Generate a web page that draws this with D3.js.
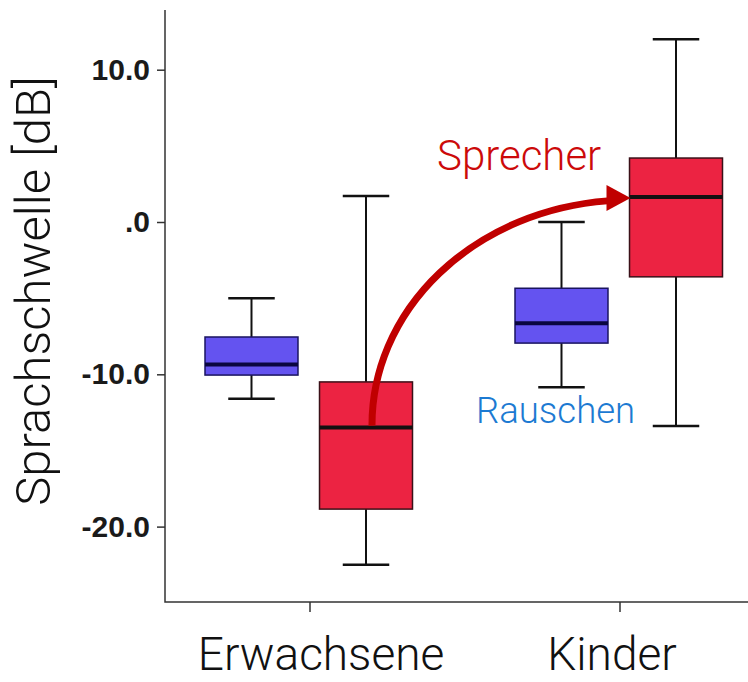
<!DOCTYPE html>
<html>
<head>
<meta charset="utf-8">
<script src="https://cdn.jsdelivr.net/npm/d3@7"></script>
<style>
  body { margin: 0; background: #fff; }
  svg { display: block; }
</style>
</head>
<body>
<svg id="chart"></svg>
<script>
const categories = ["Erwachsene", "Kinder"]
const series = ["Rauschen", "Sprecher"]
// box stats per category, order: Rauschen, Sprecher
const whiskerHigh = [[-5.0, 1.7], [0.0, 12.0]]
const q3 = [[-7.55, -10.5], [-4.35, 4.2]]
const median = [[-9.35, -13.5], [-6.65, 1.65]]
const q1 = [[-10.05, -18.85], [-7.95, -3.6]]
const whiskerLow = [[-11.6, -22.5], [-10.85, -13.4]]
const yTicks = [10, 0, -10, -20]
const yTickLabels = ["10.0", ".0", "-10.0", "-20.0"]

const width = 748, height = 682
const colors = {Rauschen: "#6453f0", Sprecher: "#ec2342"}

const svg = d3.select("#chart").attr("width", width).attr("height", height)

const plotLeft = 165, plotRight = 748, plotTop = 10, plotBottom = 602

const y = d3.scaleLinear().domain([-24.95, 13.92]).range([plotBottom, plotTop])
const x = d3.scaleBand().domain(categories).range([155, 775])
const sub = d3.scaleBand().domain(series).range([50, 257.5]).paddingInner(0.188)

const boxes = []
categories.forEach(function(c, i) {
    series.forEach(function(s, j) {
        boxes.push({cat: c, ser: s, hi: whiskerHigh[i][j], q3: q3[i][j], med: median[i][j], q1: q1[i][j], lo: whiskerLow[i][j]})
    })
})

const bw = sub.bandwidth()
const g = svg.selectAll("g.box")
    .data(boxes)
    .enter().append("g")
    .attr("class", "box")
    .attr("transform", function(d) { return `translate(${x(d.cat) + sub(d.ser)},0)` })

g.append("line")
    .attr("x1", bw / 2).attr("x2", bw / 2)
    .attr("y1", function(d) { return y(d.hi) })
    .attr("y2", function(d) { return y(d.q3) })
    .attr("stroke", "#111").attr("stroke-width", 2)
g.append("line")
    .attr("x1", bw / 2).attr("x2", bw / 2)
    .attr("y1", function(d) { return y(d.q1) })
    .attr("y2", function(d) { return y(d.lo) })
    .attr("stroke", "#111").attr("stroke-width", 2)
g.selectAll("line.cap")
    .data(function(d) { return [d.hi, d.lo] })
    .enter().append("line")
    .attr("class", "cap")
    .attr("x1", bw / 4).attr("x2", bw * 3 / 4)
    .attr("y1", function(v) { return y(v) })
    .attr("y2", function(v) { return y(v) })
    .attr("stroke", "#111").attr("stroke-width", 2.5)

g.append("rect")
    .attr("x", 0)
    .attr("width", bw)
    .attr("y", function(d) { return y(d.q3) })
    .attr("height", function(d) { return y(d.q1) - y(d.q3) })
    .attr("fill", function(d) { return colors[d.ser] })
    .attr("stroke", function(d) { return d.ser == "Rauschen" ? "#1a1460" : "#3a1018" })
    .attr("stroke-width", 1.5)

g.append("line")
    .attr("x1", 0).attr("x2", bw)
    .attr("y1", function(d) { return y(d.med) })
    .attr("y2", function(d) { return y(d.med) })
    .attr("stroke", function(d) { return d.ser == "Rauschen" ? "#0a0640" : "#111" })
    .attr("stroke-width", 4)

// axes
const yAxis = d3.axisLeft(y)
    .tickValues(yTicks)
    .tickFormat(function(d, i) { return yTickLabels[i] })
    .tickSize(8).tickPadding(7).tickSizeOuter(0)
const ya = svg.append("g").attr("transform", `translate(${plotLeft},0)`).call(yAxis)
ya.select(".domain").remove()
ya.selectAll(".tick line").attr("stroke", "#333").attr("stroke-width", 1.5)
ya.selectAll(".tick text")
    .attr("font-family", "Liberation Sans, Arial, sans-serif")
    .attr("font-size", 30).attr("font-weight", "bold").attr("fill", "#1a1a1a")

const xAxis = d3.axisBottom(x).tickSize(10).tickSizeOuter(0)
const xa = svg.append("g").attr("transform", `translate(0,${plotBottom})`).call(xAxis)
xa.select(".domain").remove()
xa.selectAll(".tick line").attr("stroke", "#333").attr("stroke-width", 1.5)
xa.selectAll(".tick text")
    .attr("font-family", "Roboto, sans-serif")
    .attr("font-weight", 300)
    .attr("font-size", 46).attr("fill", "#111")
    .attr("y", 68).attr("dy", 0)
    .attr("dx", function(d, i) { return i == 0 ? 11 : -8 })

svg.append("path")
    .attr("d", `M${plotLeft},${plotTop}V${plotBottom}H${plotRight}`)
    .attr("fill", "none").attr("stroke", "#333").attr("stroke-width", 1.5)

svg.append("text")
    .attr("transform", `translate(50,291) rotate(-90)`)
    .attr("text-anchor", "middle")
    .attr("font-family", "Roboto, sans-serif")
    .attr("font-weight", 300)
    .attr("font-size", 49).attr("fill", "#111")
    .text("Sprachschwelle [dB]")

// arrow from adult speaker median to child speaker median
const x0 = x("Erwachsene") + sub("Sprecher") + bw / 2 + 6
const y0 = y(median[0][1]) - 2
const x1 = x("Kinder") + sub("Sprecher") - 22
const y1 = y(median[1][1]) + 4
svg.append("path")
    .attr("d", `M${x0},${y0}A${x1 + 22 - x0},${y0 - y1} 0 0 1 ${x1},${y1}`)
    .attr("fill", "none").attr("stroke", "#c00000").attr("stroke-width", 7)
const tipX = x("Kinder") + sub("Sprecher") + 1, tipY = y(median[1][1]) + 1
svg.append("path")
    .attr("d", `M${tipX},${tipY}L${tipX - 24},${tipY - 13}L${tipX - 24},${tipY + 13}Z`)
    .attr("fill", "#c00000")

svg.append("text")
    .attr("x", 437).attr("y", 170)
    .attr("font-family", "Roboto, sans-serif").attr("font-weight", 300)
    .attr("font-size", 42).attr("fill", "#cc0a0a")
    .text("Sprecher")
svg.append("text")
    .attr("x", 476).attr("y", 423)
    .attr("font-family", "Roboto, sans-serif").attr("font-weight", 300)
    .attr("font-size", 36.5).attr("fill", "#1c7ad2")
    .text("Rauschen")
</script>
</body>
</html>
